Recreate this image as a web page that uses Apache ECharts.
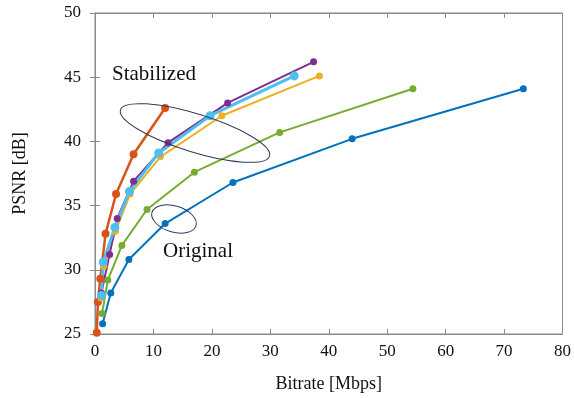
<!DOCTYPE html>
<html>
<head>
<meta charset="utf-8">
<script src="https://cdn.jsdelivr.net/npm/echarts@6/dist/echarts.min.js"></script>
<style>
  html, body { margin: 0; padding: 0; background: #fff; }
  #chart { width: 574px; height: 398px; }
</style>
</head>
<body>
<div id="chart"></div>
<script>
// bitrate [Mbps] / PSNR [dB] pairs
const blueX   = [1.3, 2.7, 5.8, 12.0, 23.6, 44.0, 73.3];
const blueY   = [25.8, 28.2, 30.8, 33.6, 36.8, 40.2, 44.1];
const orangeX = [0.3, 0.5, 0.9, 1.8, 3.6, 6.6, 12.0];
const orangeY = [25.1, 27.5, 29.3, 32.8, 35.9, 39.0, 42.6];
const yellowX = [1.0, 1.5, 3.5, 6.0, 11.2, 21.7, 38.4];
const yellowY = [27.8, 30.3, 33.0, 35.9, 38.8, 42.0, 45.1];
const purpleX = [1.1, 2.5, 3.8, 6.6, 12.5, 22.7, 37.4];
const purpleY = [28.2, 31.2, 34.0, 36.9, 39.9, 43.0, 46.2];
const greenX  = [1.2, 2.2, 4.6, 8.9, 17.0, 31.6, 54.4];
const greenY  = [26.6, 29.2, 31.9, 34.7, 37.6, 40.7, 44.1];
const cyanX   = [1.1, 1.4, 3.4, 5.9, 10.9, 19.7, 34.1];
const cyanY   = [28.0, 30.6, 33.3, 36.1, 39.1, 42.0, 45.1];

const xTicks = [0, 10, 20, 30, 40, 50, 60, 70, 80];
const yTicks = [25, 30, 35, 40, 45, 50];

const font = '"Liberation Serif", "DejaVu Serif", serif';

function pairs(xs, ys) {
  return xs.map((x, i) => [x, ys[i]]);
}

function line(name, xs, ys, color, width, size) {
  return {
    name: name,
    type: 'line',
    data: pairs(xs, ys),
    symbol: 'circle',
    symbolSize: size,
    lineStyle: { color: color, width: width },
    itemStyle: { color: color },
    animation: false
  };
}

const myChart = echarts.init(document.getElementById('chart'));

const option = {
  animation: false,
  grid: {
    left: 95, right: 7, top: 13, bottom: 64,
    show: true, borderColor: '#8a8a8a', borderWidth: 1
  },
  xAxis: [{
    type: 'value',
    min: xTicks[0], max: xTicks[xTicks.length - 1], interval: 10,
    name: 'Bitrate [Mbps]',
    nameLocation: 'middle',
    nameGap: 41,
    nameTextStyle: { fontFamily: font, fontSize: 18, color: '#111' },
    axisLine: { lineStyle: { color: '#8a8a8a' } },
    axisTick: { inside: true, length: 5, lineStyle: { color: '#8a8a8a' } },
    axisLabel: { fontFamily: font, fontSize: 17, color: '#111', margin: 9 },
    splitLine: { show: false }
  }, {
    type: 'value', position: 'top',
    min: xTicks[0], max: xTicks[xTicks.length - 1], interval: 10,
    axisLine: { lineStyle: { color: '#8a8a8a' } },
    axisTick: { inside: true, length: 5, lineStyle: { color: '#8a8a8a' } },
    axisLabel: { show: false },
    splitLine: { show: false }
  }],
  yAxis: [{
    type: 'value',
    min: yTicks[0], max: yTicks[yTicks.length - 1], interval: 5,
    name: 'PSNR [dB]',
    nameLocation: 'middle',
    nameGap: 66,
    nameTextStyle: { fontFamily: font, fontSize: 18, color: '#111' },
    axisLine: { show: true, lineStyle: { color: '#8a8a8a' } },
    axisTick: { show: true, inside: true, length: 5, lineStyle: { color: '#8a8a8a' } },
    axisLabel: { fontFamily: font, fontSize: 17, color: '#111', margin: 14 },
    splitLine: { show: false }
  }, {
    type: 'value', position: 'right',
    min: yTicks[0], max: yTicks[yTicks.length - 1], interval: 5,
    axisLine: { show: true, lineStyle: { color: '#8a8a8a' } },
    axisTick: { show: true, inside: true, length: 5, lineStyle: { color: '#8a8a8a' } },
    axisLabel: { show: false },
    splitLine: { show: false }
  }],
  series: [
    line('blue', blueX, blueY, '#0072BD', 2, 7),
    line('orange', orangeX, orangeY, '#D95319', 2.5, 8),
    line('yellow', yellowX, yellowY, '#EDB120', 2, 7),
    line('purple', purpleX, purpleY, '#7E2F8E', 2, 7),
    line('green', greenX, greenY, '#77AC30', 2, 7),
    line('cyan', cyanX, cyanY, '#4DBEEE', 3, 9)
  ],
  graphic: [
    {
      type: 'text', left: 112, top: 64,
      style: { text: 'Stabilized', fontFamily: font, fontSize: 21, fill: '#111' }
    },
    {
      type: 'text', left: 163, top: 241,
      style: { text: 'Original', fontFamily: font, fontSize: 21, fill: '#111' }
    },
    {
      type: 'ellipse', x: 195, y: 133, rotation: -0.3,
      shape: { cx: 0, cy: 0, rx: 78, ry: 19 },
      style: { fill: 'none', stroke: '#2e3d5c', lineWidth: 1 },
      z: 10
    },
    {
      type: 'ellipse', x: 174, y: 219, rotation: -0.3,
      shape: { cx: 0, cy: 0, rx: 23, ry: 13 },
      style: { fill: 'none', stroke: '#2e3d5c', lineWidth: 1 },
      z: 10
    }
  ]
};

option && myChart.setOption(option);
</script>
</body>
</html>
